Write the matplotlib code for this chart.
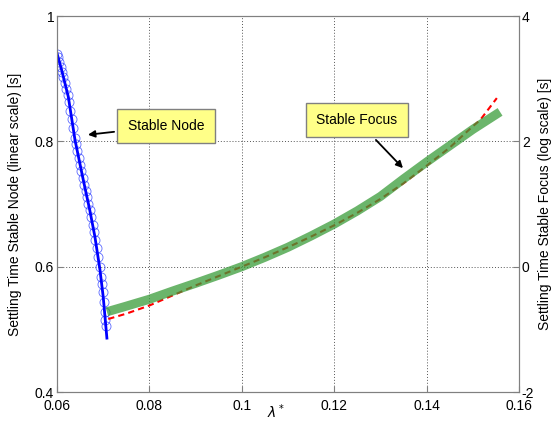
import matplotlib as mpl
mpl.use('Agg')
import matplotlib.pyplot as plt

plt.rcParams['font.family'] = ['Liberation Sans', 'DejaVu Sans']
plt.rcParams['font.size'] = 10

# stable node: settling time (linear scale), left axis
node_line_x = [0.0600, 0.0610, 0.06245, 0.0639, 0.0657, 0.0671, 0.0682, 0.0693, 0.0700, 0.0708]
node_line_y = [0.9405, 0.914, 0.871, 0.802, 0.738, 0.690, 0.648, 0.595, 0.552, 0.486]

node_circ_x = [0.0600, 0.0602, 0.0605, 0.0608, 0.0611, 0.0614, 0.0617, 0.0620, 0.0623,
               0.0626, 0.0629, 0.0632, 0.0635, 0.0638, 0.0641, 0.0644, 0.0647, 0.0650,
               0.0653, 0.0656, 0.0659, 0.0662, 0.0665, 0.0668, 0.0671, 0.0674, 0.0677,
               0.0680, 0.0683, 0.0686, 0.0689, 0.0692, 0.0695, 0.0697, 0.0699, 0.0701,
               0.0703, 0.0704, 0.0705]
node_circ_y = [0.940, 0.935, 0.927, 0.919, 0.911, 0.902, 0.893, 0.884, 0.874,
               0.862, 0.849, 0.835, 0.821, 0.806, 0.795, 0.784, 0.773, 0.762,
               0.752, 0.741, 0.731, 0.721, 0.711, 0.700, 0.690, 0.679, 0.667,
               0.655, 0.643, 0.630, 0.616, 0.600, 0.584, 0.572, 0.559, 0.544,
               0.528, 0.515, 0.505]

# stable focus: settling time (log scale), right axis
focus_x = [0.0708, 0.075, 0.08, 0.085, 0.09, 0.095, 0.10, 0.105, 0.11, 0.115, 0.12,
           0.125, 0.13, 0.135, 0.14, 0.145, 0.15, 0.1559]
focus_y = [-0.72, -0.63, -0.52, -0.39, -0.265, -0.135, 0.0, 0.15, 0.31, 0.49, 0.68,
           0.89, 1.12, 1.40, 1.67, 1.93, 2.19, 2.47]

fit_x = [0.0711, 0.075, 0.08, 0.085, 0.09, 0.095, 0.10, 0.105, 0.11, 0.115, 0.12,
         0.125, 0.13, 0.135, 0.14, 0.145, 0.15, 0.1516, 0.1552]
fit_y = [-0.835, -0.75, -0.62, -0.46, -0.30, -0.15, 0.0, 0.15, 0.31, 0.48, 0.66,
         0.86, 1.08, 1.33, 1.61, 1.90, 2.24, 2.34, 2.69]

xticks = [0.06, 0.08, 0.1, 0.12, 0.14, 0.16]
xticklabels = ['0.06', '0.08', '0.1', '0.12', '0.14', '0.16']
yticks_left = [0.4, 0.6, 0.8, 1.0]
yticklabels_left = ['0.4', '0.6', '0.8', '1']
yticks_right = [-2, 0, 2, 4]
yticklabels_right = ['-2', '0', '2', '4']

fig = plt.figure(figsize=(5.55, 4.22), dpi=100)
ax = fig.add_axes([57 / 555, 1 - 392 / 422, 462 / 555, 376 / 422])
ax2 = ax.twinx()

ax.plot(node_circ_x, node_circ_y, 'o', mfc='none', mec='#3344ff', mew=0.6, ms=6.5, alpha=0.8)
ax.plot(node_line_x, node_line_y, color='#0000ff', lw=2)

ax2.plot(fit_x, fit_y, color='red', lw=1.5, dashes=(3, 2))
ax2.plot(focus_x, focus_y, color='#3a9c3a', lw=6.5, alpha=0.75, solid_capstyle='butt')

ax.set_xlim(0.06, 0.16)
ax.set_ylim(0.4, 1.0)
ax2.set_ylim(-2, 4)
ax.set_xticks(xticks)
ax.set_xticklabels(xticklabels)
ax.set_yticks(yticks_left)
ax.set_yticklabels(yticklabels_left)
ax2.set_yticks(yticks_right)
ax2.set_yticklabels(yticklabels_right)

ax.grid(True, color='#555555', ls=(0, (1, 2)), lw=0.7)
for a in (ax, ax2):
    a.tick_params(direction='in', length=4, color='#808080', pad=2)
    for s in a.spines.values():
        s.set_color('#808080')
ax.tick_params(axis='x', pad=5)
ax.set_axisbelow(True)

ax.set_xlabel(r'$\lambda^*$', va='top')
ax.xaxis.set_label_coords(0.474, -0.028)
ax.set_ylabel('Settling Time Stable Node (linear scale) [s]', va='center')
ax.yaxis.set_label_coords(-0.091, 0.5)
ax2.set_ylabel('Settling Time Stable Focus (log scale) [s]', va='center')
ax2.yaxis.set_label_coords(1.056, 0.5)

box = dict(boxstyle='square,pad=0.75', fc='#ffff88', ec='#808080', lw=1)
arrow = dict(arrowstyle='-|>', color='black', lw=1.3, mutation_scale=10)
ax.annotate('Stable Node', xy=(0.0661, 0.810), xytext=(0.0836, 0.8245),
            ha='center', va='center', bbox=box, arrowprops=arrow)
ax.annotate('Stable Focus', xy=(0.1353, 0.754), xytext=(0.1249, 0.834),
            ha='center', va='center', bbox=box, arrowprops=arrow)

fig.savefig('out.png', dpi=100)
